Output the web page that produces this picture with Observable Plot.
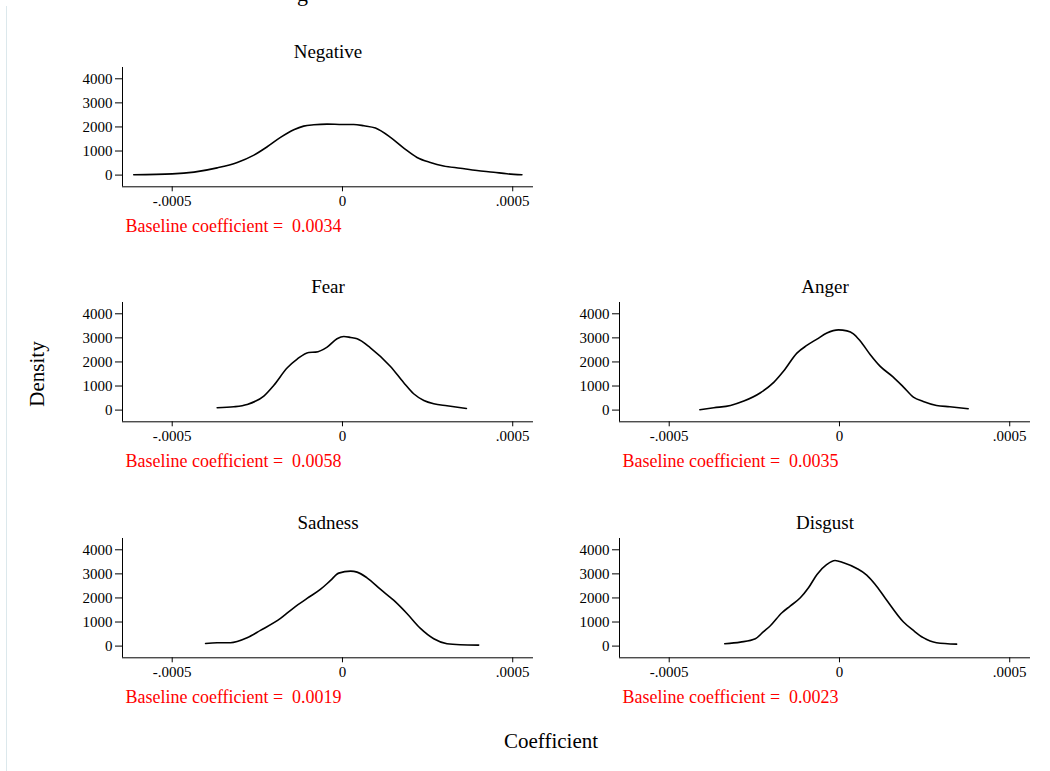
<!DOCTYPE html>
<html>
<head>
<meta charset="utf-8">
<script src="https://cdn.jsdelivr.net/npm/d3@7"></script>
<script src="https://cdn.jsdelivr.net/npm/@observablehq/plot@0.6"></script>
<style>
  html, body { margin: 0; padding: 0; background: #fff; }
  #page { position: relative; width: 1050px; height: 771px; overflow: hidden; background: #fff;
          font-family: "Liberation Serif", "Times New Roman", serif; color: #000; }
  .panel { position: absolute; }
  .panel svg { max-width: none !important; }
  .edge { position: absolute; left: 6px; top: 6px; width: 0; height: 765px; border-left: 1px solid #dce8ec; }
  .axis-title { position: absolute; font-size: 21px; white-space: nowrap; }
  .top-title { position: absolute; left: 297px; top: -17px; font-size: 22px; line-height: 22px; }
</style>
</head>
<body>
<div id="page">
  <div class="edge"></div>
  <div class="top-title">g</div>
  <div class="axis-title" id="ylab" style="left:37px; top:374px; transform: translate(-50%,-50%) rotate(-90deg);">Density</div>
  <div class="axis-title" id="xlab" style="left:551px; top:741px; transform: translate(-50%,-50%);">Coefficient</div>
</div>
<script>
// Panel titles and the baseline coefficients printed under each panel
const titles = ["Negative", "Fear", "Anger", "Sadness", "Disgust"];
const baselines = ["0.0034", "0.0058", "0.0035", "0.0019", "0.0023"];

// Shared axes
const xDomain = [-0.000646, 0.000561];
const yDomain = [-486, 4469];
const xTicks = [-0.0005, 0, 0.0005];
const yTicks = [0, 1000, 2000, 3000, 4000];

// Kernel density curves of the placebo coefficients
const negX = [-0.000613, -0.0005, -0.000436, -0.000368, -0.000309, -0.00026, -0.000221, -0.000182, -0.000143, -0.000114, -0.000084, -0.000045, 0, 0.000033, 0.000063, 0.000097, 0.000141, 0.00018, 0.000219, 0.000258, 0.000297, 0.000346, 0.000395, 0.000444, 0.000483, 0.000527];
const negY = [14, 50, 125, 300, 526, 830, 1176, 1564, 1882, 2035, 2090, 2118, 2104, 2104, 2048, 1952, 1564, 1121, 734, 526, 380, 285, 190, 120, 55, 14];

const fearX = [-0.000368, -0.000319, -0.00028, -0.000231, -0.000202, -0.000162, -0.000133, -0.000099, -0.000079, -0.000045, -0.000016, 0.000004, 0.000024, 0.000043, 0.000082, 0.000141, 0.00018, 0.000209, 0.000239, 0.000268, 0.000307, 0.000364];
const fearY = [97, 138, 235, 581, 1024, 1758, 2118, 2394, 2408, 2616, 2962, 3059, 3017, 2962, 2588, 1813, 1135, 678, 401, 263, 180, 69];

const angerX = [-0.00041, -0.000369, -0.00032, -0.000281, -0.000232, -0.000193, -0.000164, -0.000125, -0.000096, -0.000066, -0.000037, -0.000003, 0.000022, 0.000041, 0.000061, 0.00009, 0.000119, 0.000158, 0.000188, 0.000217, 0.000246, 0.000285, 0.000324, 0.000378];
const angerY = [14, 97, 194, 374, 720, 1149, 1619, 2367, 2685, 2950, 3200, 3330, 3290, 3170, 2870, 2311, 1827, 1370, 955, 540, 360, 194, 138, 55];

const sadX = [-0.000402, -0.000368, -0.000329, -0.00028, -0.000241, -0.000182, -0.000143, -0.000104, -0.000065, -0.000035, -0.000011, 0.000024, 0.000043, 0.000072, 0.000112, 0.000151, 0.00019, 0.000229, 0.000268, 0.000307, 0.000346, 0.0004];
const sadY = [111, 138, 138, 346, 651, 1149, 1592, 1979, 2353, 2727, 3031, 3114, 3073, 2837, 2353, 1896, 1343, 734, 305, 97, 55, 42];

const disX = [-0.000337, -0.000291, -0.000247, -0.000223, -0.000203, -0.000169, -0.000145, -0.000115, -0.000091, -0.000066, -0.000037, -0.000013, 0.000012, 0.000051, 0.00008, 0.000105, 0.000134, 0.000188, 0.000217, 0.000246, 0.000285, 0.000344];
const disY = [97, 166, 305, 600, 844, 1384, 1661, 2007, 2422, 2976, 3391, 3557, 3460, 3225, 2950, 2560, 2000, 1000, 650, 350, 140, 80];

const series = [[negX, negY], [fearX, fearY], [angerX, angerY], [sadX, sadY], [disX, disY]];

// Where each panel's plotting frame sits on the page (left edge, top edge)
const frames = [[122, 66.7], [122, 302.3], [619.3, 302.3], [122, 537.7], [619.3, 537.7]];

const M = {left: 60, right: 15, top: 40, bottom: 60};
const FW = 411, FH = 119.3;
const serif = "'Liberation Serif', 'Times New Roman', serif";

// -.0005 / 0 / .0005 style labels
const fmtX = d => d === 0 ? "0" : (d < 0 ? "-" : "") + String(Math.abs(d)).replace(/^0/, "");

const page = document.getElementById("page");

titles.forEach((title, i) => {
  const [xs, ys] = series[i];
  const data = xs.map((x, j) => ({x, y: ys[j]}));
  const chart = Plot.plot({
    width: M.left + FW + M.right,
    height: M.top + FH + M.bottom,
    marginLeft: M.left, marginRight: M.right, marginTop: M.top, marginBottom: M.bottom,
    style: {fontFamily: serif, fontSize: "15px", color: "#000", background: "transparent", overflow: "visible"},
    x: {domain: xDomain, ticks: xTicks, tickFormat: fmtX, tickSize: 5, tickPadding: 4, label: null},
    y: {domain: yDomain, ticks: yTicks, tickFormat: d => String(d), tickSize: 7, tickPadding: 3, label: null},
    marks: [
      Plot.ruleY([yDomain[0]], {stroke: "#000", strokeWidth: 1}),
      Plot.ruleX([xDomain[0]], {stroke: "#000", strokeWidth: 1}),
      Plot.line(data, {x: "x", y: "y", curve: "monotone-x", stroke: "#000", strokeWidth: 1.6}),
      Plot.text([title], {frameAnchor: "top", lineAnchor: "bottom", dy: -9, fontSize: 19, fill: "#000"}),
      Plot.text([`Baseline coefficient = \u00a0${baselines[i]}`], {
        frameAnchor: "bottom-left", textAnchor: "start", lineAnchor: "bottom",
        dx: 3, dy: 45, fontSize: 18, fill: "#ff0000"
      })
    ]
  });
  const wrap = document.createElement("div");
  wrap.className = "panel";
  wrap.style.left = (frames[i][0] - M.left) + "px";
  wrap.style.top = (frames[i][1] - M.top) + "px";
  wrap.appendChild(chart);
  page.appendChild(wrap);
});
</script>
</body>
</html>
